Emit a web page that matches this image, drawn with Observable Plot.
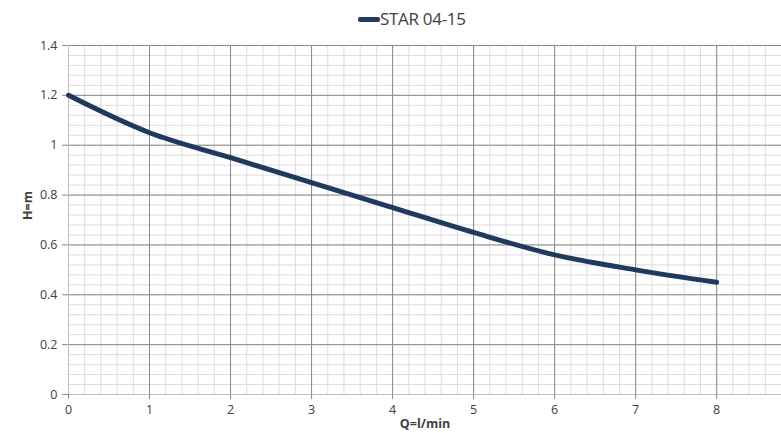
<!DOCTYPE html>
<html>
<head>
<meta charset="utf-8">
<script src="https://cdn.jsdelivr.net/npm/d3@7"></script>
<script src="https://cdn.jsdelivr.net/npm/@observablehq/plot@0.6"></script>
<style>
  html, body { margin: 0; padding: 0; background: #fff; overflow: hidden; width: 781px; height: 433px; }
  #legend { height: 36px; position: relative; font-family: "Open Sans", sans-serif; font-size: 17px; color: #404040; }
  #legend .sw { position: absolute; left: 358px; top: 17px; width: 22px; height: 5px; background: #203a5e; border-radius: 2px; }
  #legend .lb { position: absolute; left: 380px; top: 8px; line-height: 22px; letter-spacing: -0.3px; }
  svg { display: block; }
</style>
</head>
<body>
<div id="legend"><div class="sw"></div><div class="lb">STAR 04-15</div></div>
<div id="chart"></div>
<script>
const seriesName = "STAR 04-15";
const flow = [0, 1, 2, 3, 4, 5, 6, 7, 8];           // Q = l/min
const head = [1.2, 1.05, 0.95, 0.85, 0.75, 0.65, 0.56, 0.5, 0.45]; // H = m
const xTicks = [0, 1, 2, 3, 4, 5, 6, 7, 8];
const yTicks = [0, 0.2, 0.4, 0.6, 0.8, 1, 1.2, 1.4];
const yTickLabels = ["0", "0.2", "0.4", "0.6", "0.8", "1", "1.2", "1.4"];
const xLabel = "Q=l/min";
const yLabel = "H=m";

const data = flow.map((q, i) => ({q, h: head[i]}));
const xMinor = d3.range(0, 8.81, 0.2);
const yMinor = d3.range(0, 1.4001, 0.04);

const plot = Plot.plot({
  width: 781,
  height: 397,
  marginLeft: 68,
  marginRight: 0,
  marginTop: 9,
  marginBottom: 39,
  style: {fontFamily: "'Open Sans', sans-serif", fontSize: "12.5px", color: "#404040", background: "#fff"},
  x: {domain: [0, 8.8]},
  y: {domain: [0, 1.4]},
  marks: [
    Plot.ruleX(xMinor, {stroke: "#dcdcdc", strokeWidth: 1}),
    Plot.ruleY(yMinor, {stroke: "#dcdcdc", strokeWidth: 1}),
    Plot.ruleX(xTicks.filter(d => d > 0), {stroke: "#8a8a8a", strokeWidth: 1}),
    Plot.ruleY(yTicks.filter(d => d > 0), {stroke: "#8a8a8a", strokeWidth: 1}),
    Plot.ruleX([0], {stroke: "#bfbfbf"}),
    Plot.ruleY([0], {stroke: "#bfbfbf"}),
    Plot.axisX({ticks: xTicks, tickSize: 5, tickPadding: 6, stroke: "#8a8a8a", label: null, tickFormat: d => String(d)}),
    Plot.axisY({ticks: yTicks, tickSize: 6, tickPadding: 5, stroke: "#8a8a8a", label: null, tickFormat: (d) => yTickLabels[yTicks.indexOf(d)]}),
    Plot.line(data, {x: "q", y: "h", stroke: "#203a5e", strokeWidth: 5, curve: "catmull-rom", strokeLinecap: "round"}),
    Plot.text([xLabel], {frameAnchor: "bottom", dy: 33, fontWeight: "bold", fontSize: 12.5, fill: "#404040"}),
    Plot.text([yLabel], {frameAnchor: "left", dx: -41, rotate: -90, fontWeight: "bold", fontSize: 12.5, fill: "#404040"})
  ]
});
document.getElementById("chart").appendChild(plot);
</script>
</body>
</html>
